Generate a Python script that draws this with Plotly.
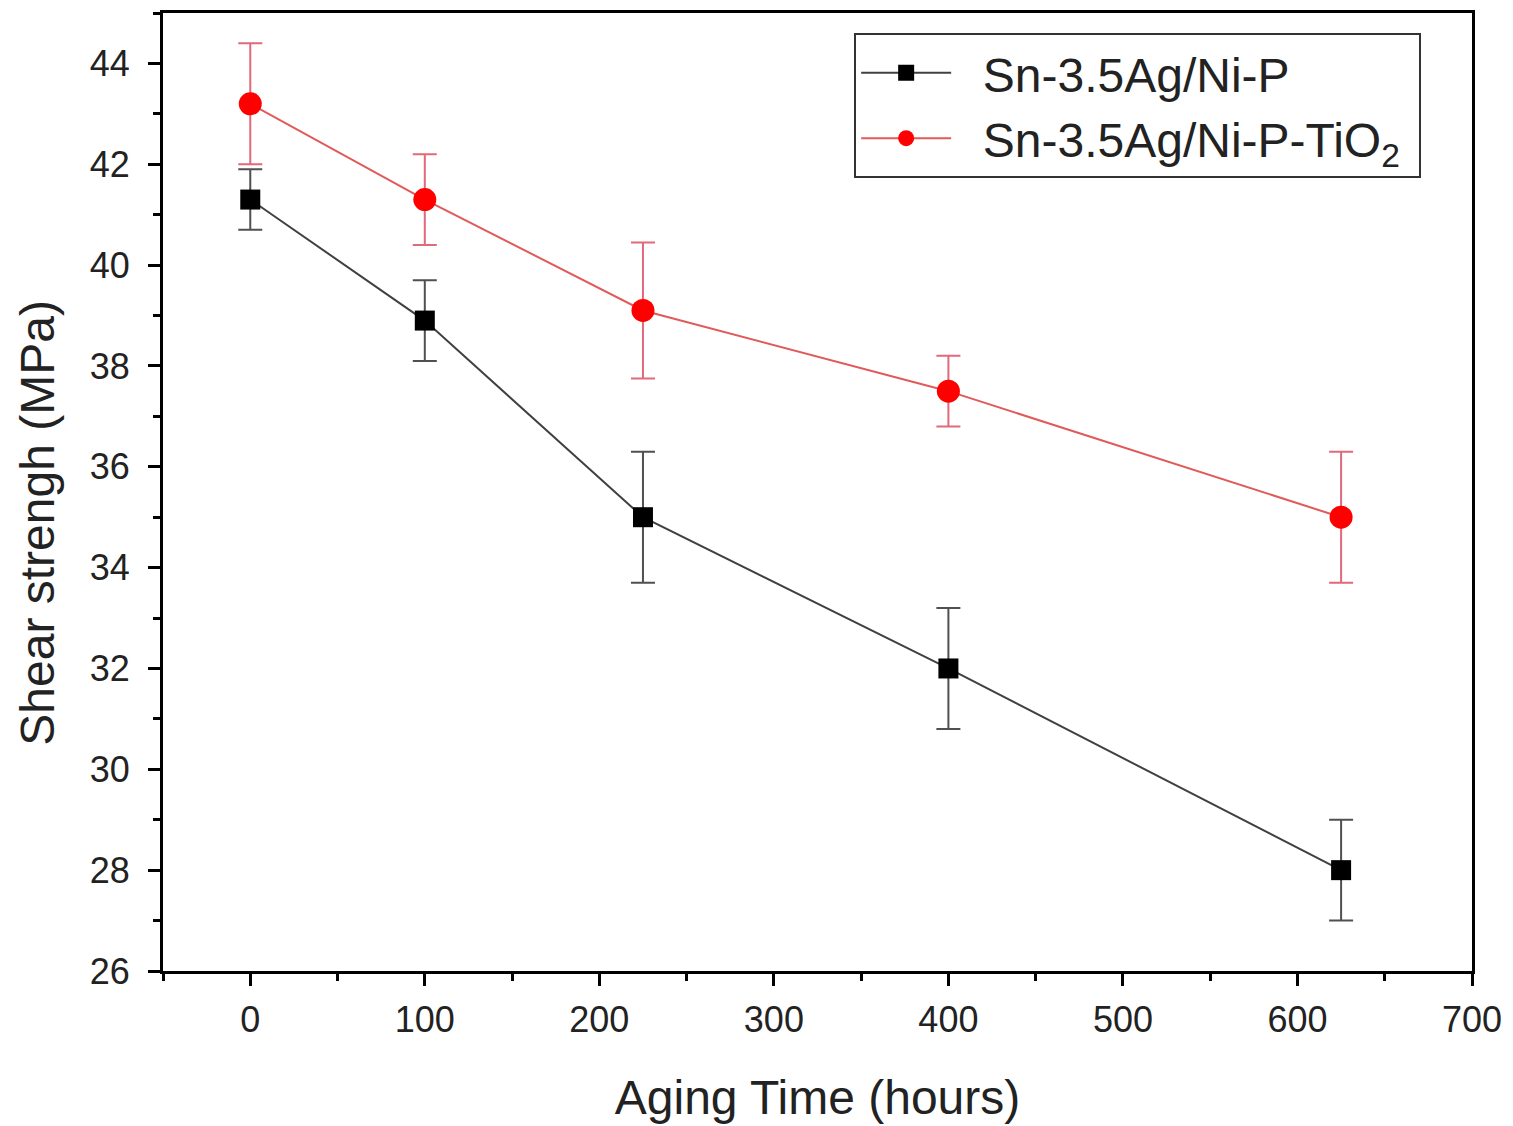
import plotly.graph_objects as go

# Aging time (hours) and shear strength (MPa) for both solder joints
aging_hours = [0, 100, 225, 400, 625]

nip_strength = [41.3, 38.9, 35.0, 32.0, 28.0]
nip_error = [0.6, 0.8, 1.3, 1.2, 1.0]

tio2_strength = [43.2, 41.3, 39.1, 37.5, 35.0]
tio2_error = [1.2, 0.9, 1.35, 0.7, 1.3]

x_ticks = [0, 100, 200, 300, 400, 500, 600, 700]
y_ticks = [26, 28, 30, 32, 34, 36, 38, 40, 42, 44]

FONT = "Liberation Sans, Arial, sans-serif"
GAP = "\u00a0\u00a0"

fig = go.Figure()

fig.add_trace(go.Scatter(
    x=aging_hours, y=nip_strength,
    mode="lines+markers",
    name=GAP + "Sn-3.5Ag/Ni-P",
    line=dict(color="#404040", width=2),
    marker=dict(symbol="square", size=20, color="black"),
    error_y=dict(type="data", array=nip_error, visible=True,
                 color="#505050", thickness=2, width=12),
))

fig.add_trace(go.Scatter(
    x=aging_hours, y=tio2_strength,
    mode="lines+markers",
    name=GAP + "Sn-3.5Ag/Ni-P-TiO<sub>2</sub>\u00a0",
    line=dict(color="#e05a5a", width=2),
    marker=dict(symbol="circle", size=23, color="#ff0000"),
    error_y=dict(type="data", array=tio2_error, visible=True,
                 color="#e06a7a", thickness=2, width=12),
))

axis_common = dict(
    showline=True, linecolor="black", linewidth=3, mirror=True,
    ticks="outside", ticklen=12, tickwidth=2.5, tickcolor="black",
    showgrid=False, zeroline=False,
    tickfont=dict(family=FONT, size=36, color="#222"),
)

fig.update_xaxes(
    range=[-50, 700], tickvals=x_ticks,
    minor=dict(ticks="outside", ticklen=7, tickwidth=2.5, tickcolor="black", dtick=50, tick0=-50),
    title=dict(text="Aging Time (hours)", font=dict(family=FONT, size=48, color="#222"), standoff=42),
    ticklabelstandoff=3,
    **axis_common,
)
fig.update_yaxes(
    range=[26, 45], tickvals=y_ticks,
    minor=dict(ticks="outside", ticklen=7, tickwidth=2.5, tickcolor="black", dtick=1, tick0=26),
    ticklabelstandoff=11,
    **axis_common,
)

# Y-axis title placed as a rotated annotation
fig.add_annotation(
    text="Shear strengh (MPa)", textangle=-90,
    xref="paper", yref="paper", x=-0.0955, y=0.468,
    xanchor="center", yanchor="middle", showarrow=False,
    font=dict(family=FONT, size=48, color="#222"),
)

fig.update_layout(
    width=1513, height=1126,
    margin=dict(l=163, r=41, t=10, b=154),
    paper_bgcolor="white", plot_bgcolor="white",
    showlegend=True,
    legend=dict(
        x=0.528, y=0.979, xanchor="left", yanchor="top",
        bgcolor="white", bordercolor="#333", borderwidth=2,
        font=dict(family=FONT, size=48, color="#222"),
        itemwidth=90, tracegroupgap=0,
    ),
)

fig.write_html("out.html")
